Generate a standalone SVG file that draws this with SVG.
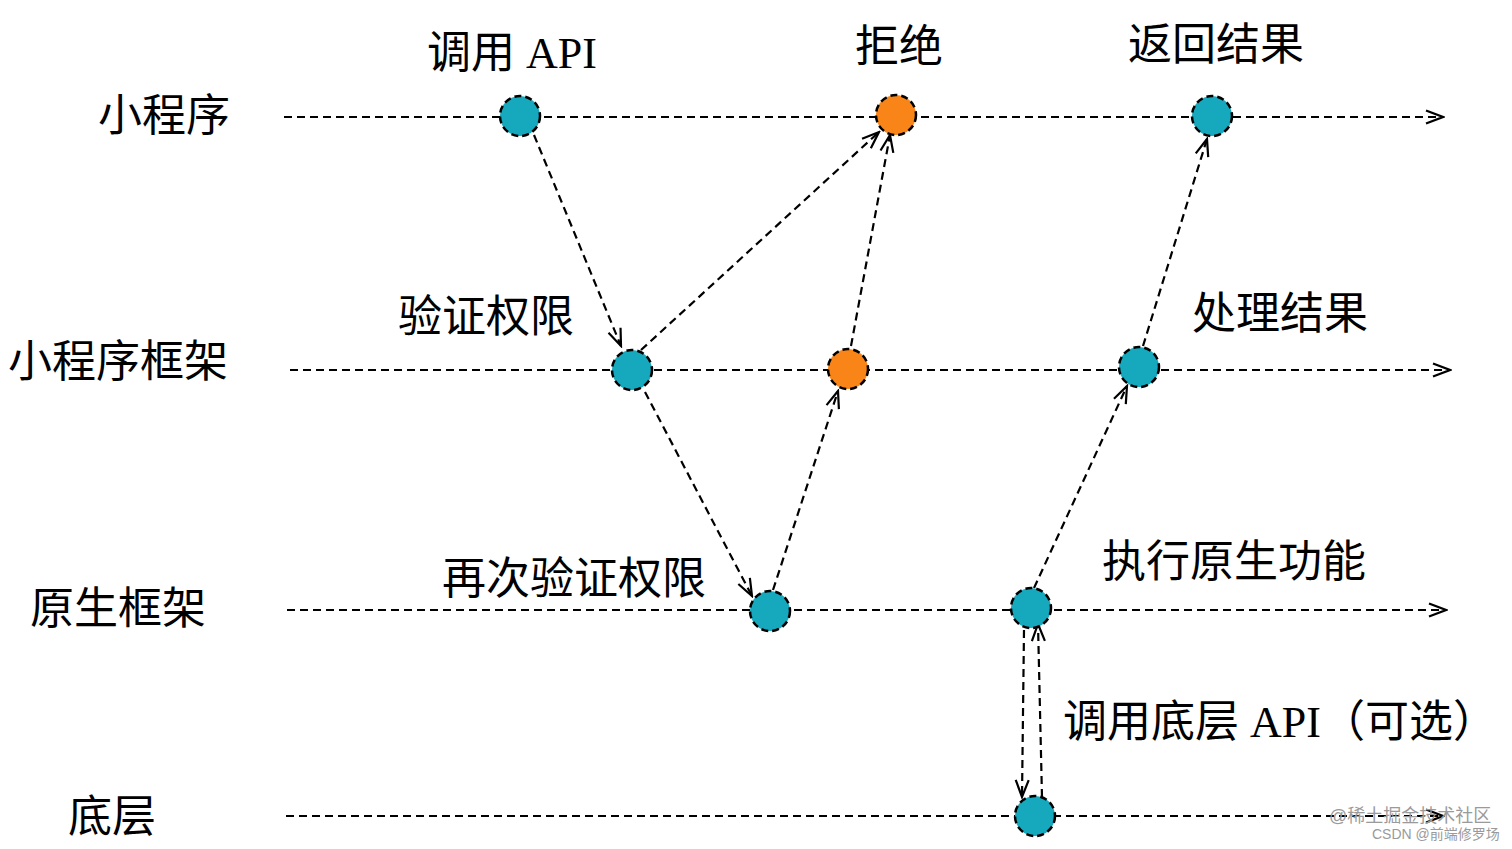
<svg xmlns="http://www.w3.org/2000/svg" width="1512" height="849" viewBox="0 0 1512 849">
<defs>
<marker id="arr" viewBox="0 0 20 16" refX="18" refY="8" markerWidth="20" markerHeight="16" markerUnits="userSpaceOnUse" orient="auto">
<path d="M1,1.5 L18,8 L1,14.5" fill="none" stroke="#000" stroke-width="2.2"/>
</marker>
</defs>
<style>
.ln{fill:none;stroke:#000;stroke-width:2.2;stroke-dasharray:8 5;marker-end:url(#arr)}
.nd{stroke:#000;stroke-width:2.5;stroke-dasharray:7 4}
.teal{fill:#16A9BE}
.orng{fill:#F98519}
.t{font-family:"Liberation Serif","Noto Sans CJK SC",serif;font-size:44px;fill:#000}
.wm{font-family:"Liberation Sans","Noto Sans CJK SC",sans-serif;fill:#9a9a9a}
</style>
<rect width="1512" height="849" fill="#fff"/>
<g id="connectors">
<path class="ln" d="M284,117 H1443"/>
<path class="ln" d="M290,370 H1450"/>
<path class="ln" d="M287,610 H1446"/>
<path class="ln" d="M286,816 H1443"/>
<path class="ln" d="M534,135 L621,346"/>
<path class="ln" d="M641,350 L879,132"/>
<path class="ln" d="M851,346 L890,135"/>
<path class="ln" d="M645,392 L752,596"/>
<path class="ln" d="M773,590 L838,391"/>
<path class="ln" d="M1034,588 L1127,386"/>
<path class="ln" d="M1143,346 L1207,139"/>
<path class="ln" d="M1024,630 L1022,797"/>
<path class="ln" d="M1042,797 L1038,624"/>
</g>
<g id="lane-labels">
<text class="t" x="98" y="131">小程序</text>
<text class="t" x="8" y="377">小程序框架</text>
<text class="t" x="30" y="624">原生框架</text>
<text class="t" x="68" y="832">底层</text>
</g>
<g id="n-call-api"><circle class="nd teal" cx="520" cy="116" r="20"/><text class="t" x="427" y="68">调用 API</text></g>
<g id="n-reject"><circle class="nd orng" cx="896" cy="115" r="20"/><text class="t" x="855" y="62">拒绝</text></g>
<g id="n-return"><circle class="nd teal" cx="1212" cy="116" r="20"/><text class="t" x="1128" y="60">返回结果</text></g>
<g id="n-verify"><circle class="nd teal" cx="632" cy="370" r="20"/><text class="t" x="398" y="332">验证权限</text></g>
<g id="n-fw-reject"><circle class="nd orng" cx="848" cy="369" r="20"/></g>
<g id="n-process"><circle class="nd teal" cx="1139" cy="367" r="20"/><text class="t" x="1192" y="329">处理结果</text></g>
<g id="n-reverify"><circle class="nd teal" cx="770" cy="611" r="20"/><text class="t" x="442" y="594">再次验证权限</text></g>
<g id="n-native"><circle class="nd teal" cx="1031" cy="608" r="20"/><text class="t" x="1102" y="577">执行原生功能</text></g>
<g id="n-bottom"><circle class="nd teal" cx="1035" cy="816" r="20"/><text class="t" x="1063" y="737">调用底层 API（可选）</text></g>
<g id="watermark">
<text class="wm" x="1329" y="822" font-size="18">@稀土掘金技术社区</text>
<text class="wm" x="1372" y="839" font-size="14">CSDN @前端修罗场</text>
</g>
</svg>
